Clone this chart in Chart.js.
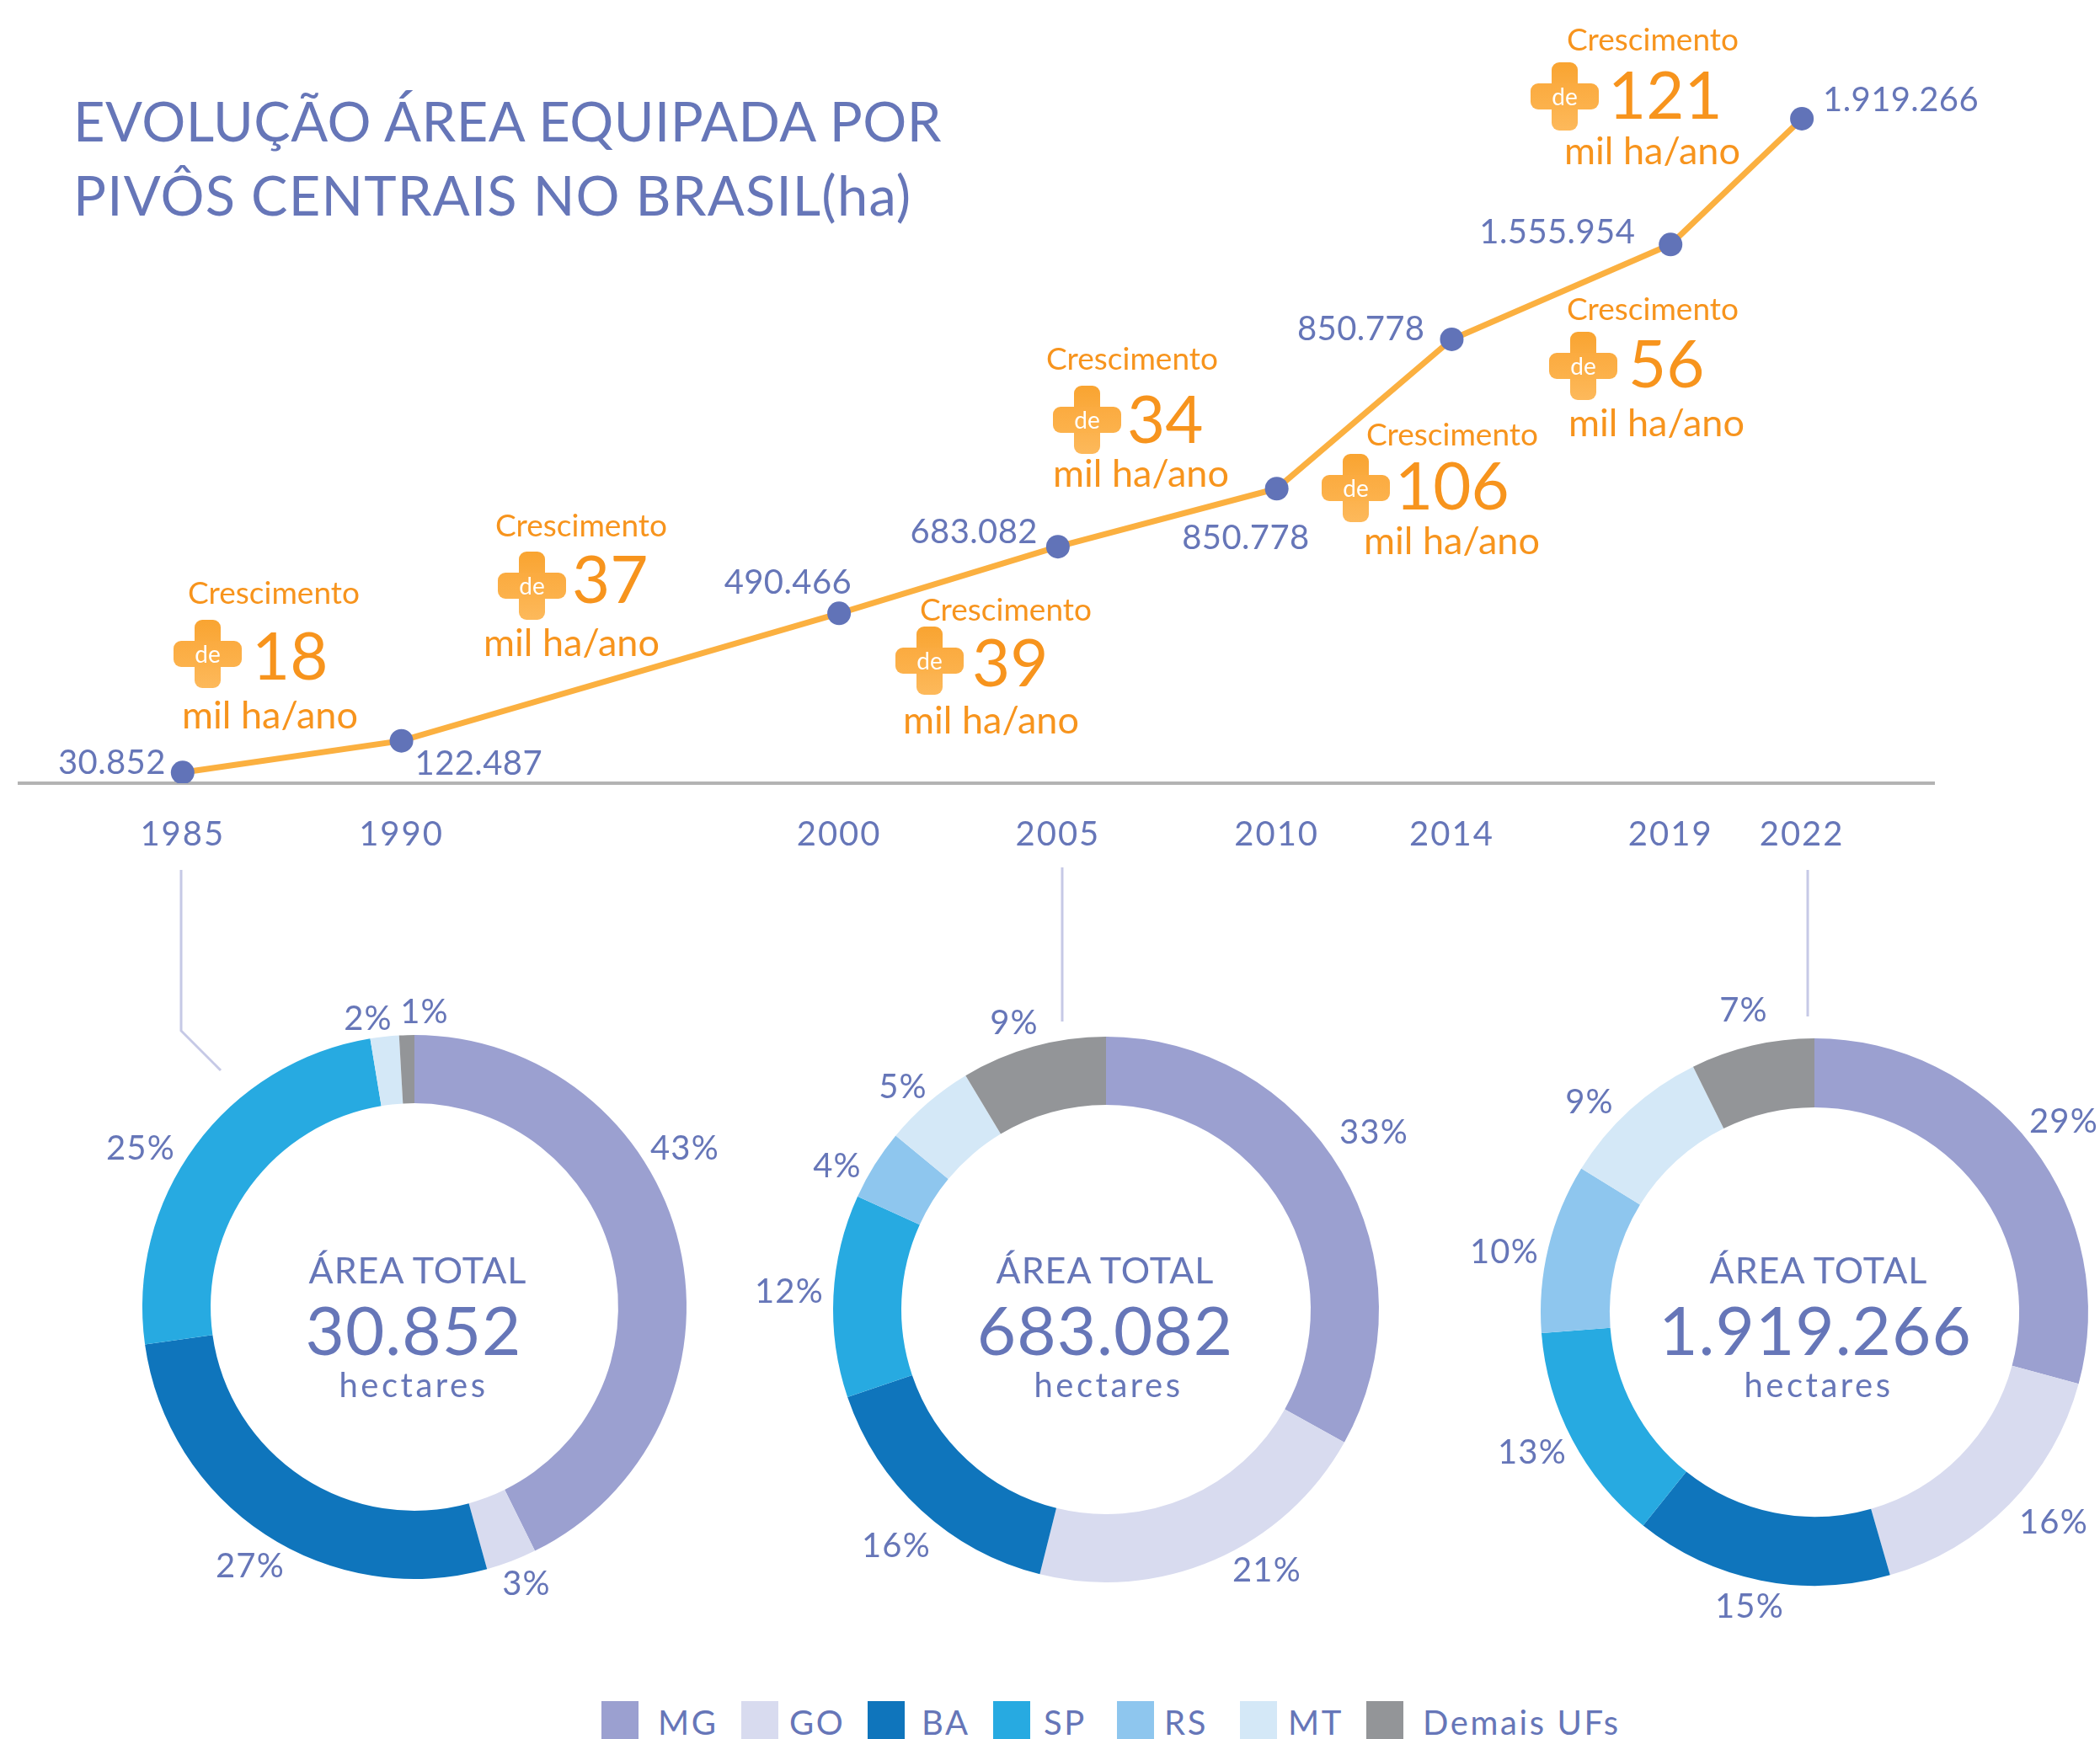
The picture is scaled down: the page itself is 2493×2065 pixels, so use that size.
<!DOCTYPE html>
<html lang="pt-BR">
<head>
<meta charset="utf-8">
<title>Evolução área equipada por pivôs centrais</title>
<script src="https://cdn.jsdelivr.net/npm/chart.js@4/dist/chart.umd.min.js"></script>
<style>
    html, body { margin: 0; padding: 0; background: #fff; }
    body { position: relative; width: 2493px; height: 2065px; overflow: hidden; font-family: Lato, sans-serif; color: #6676b8; }
    canvas { position: absolute; }
    .txt { position: absolute; white-space: nowrap; line-height: 1; }
    .orange { color: #f7941d; }
    .plus { position: absolute; width: 81px; height: 81px; }
    .plus i { position: absolute; border-radius: 9px; background: linear-gradient(#f9a431, #fdb95b); }
    .plus .v { left: 25px; top: 0; width: 31px; height: 81px; }
    .plus .h { left: 0; top: 0; width: 81px; height: 81px; background: none; }
    .plus .h b { position: absolute; left: 0; top: 25px; width: 81px; height: 31px; border-radius: 9px; background: linear-gradient(#fbab40, #fcb24c); }
    .plus span { position: absolute; left: 0; top: 24px; width: 81px; text-align: center; color: #fff; font-size: 28px; line-height: 32px; }
    .center { transform: translateX(-50%); }
    .swatch { position: absolute; top: 2020px; width: 44px; height: 45px; }
    .leg { position: absolute; top: 2025px; font-size: 40px; line-height: 40px; letter-spacing: 2.6px; white-space: nowrap; }
    svg { position: absolute; left: 0; top: 0; }
</style>
</head>
<body>
<svg width="2493" height="2065">
    <polyline points="215,1033 215,1224 262,1271" fill="none" stroke="#c6c9e6" stroke-width="3"/>
    <line x1="1261" y1="1030" x2="1261" y2="1213" stroke="#c6c9e6" stroke-width="3"/>
    <line x1="2146" y1="1033" x2="2146" y2="1207" stroke="#c6c9e6" stroke-width="3"/>
</svg>
<canvas id="lineChart"></canvas>
<canvas id="donut1"></canvas>
<canvas id="donut2"></canvas>
<canvas id="donut3"></canvas>
<script>
// Line chart data
const years = [1985, 1990, 2000, 2005, 2010, 2014, 2019, 2022];
const areas = [30852, 122487, 490466, 683082, 850778, 1282000, 1555954, 1919266];
const areaLabels = ['30.852', '122.487', '490.466', '683.082', '850.778', '850.778', '1.555.954', '1.919.266'];

// Growth callouts
const growthValues = ['18', '37', '39', '34', '106', '56', '121'];

// Donut data
const states = ['MG', 'GO', 'BA', 'SP', 'RS', 'MT', 'Demais UFs'];
const shares1985 = [42.7, 3, 27.1, 24.6, 0, 1.7, 0.9];
const shares2005 = [33.1, 20.8, 15.9, 12, 4.2, 5.4, 8.6];
const shares2022 = [29.2, 16.3, 15.2, 13, 10, 8.9, 7.3];
const pctLabels1985 = ['43%', '3%', '27%', '25%', '', '2%', '1%'];
const pctLabels2005 = ['33%', '21%', '16%', '12%', '4%', '5%', '9%'];
const pctLabels2022 = ['29%', '16%', '15%', '13%', '10%', '9%', '7%'];
const totals = ['30.852', '683.082', '1.919.266'];

const stateColors = ['#9ba0d0', '#d8dbef', '#0f75bc', '#27aae1', '#8ec6ee', '#d4e8f7', '#939598'];
const blue = '#6676b8';
const FONT = 'Lato, sans-serif';

// Layout, in page pixels
const labelOffsets = [[-20, -11, 'right'], [16, 27, 'left'], [15, -36, 'right'], [-24, -17, 'right'],
    [39, 59, 'right'], [-32, -12, 'right'], [-42, -14, 'right'], [25, -22, 'left']];
const growthBoxes = [
    { cres: [223, 702], plus: [246, 776], num: [299, 777], mil: [216, 848] },
    { cres: [588, 622], plus: [631, 695], num: [679, 686], mil: [574, 762] },
    { cres: [1092, 722], plus: [1103, 784], num: [1154, 785], mil: [1072, 854] },
    { cres: [1242, 424], plus: [1290, 498], num: [1338, 496], mil: [1250, 561] },
    { cres: [1622, 514], plus: [1609, 579], num: [1656, 575], mil: [1619, 641] },
    { cres: [1860, 365], plus: [1879, 434], num: [1933, 430], mil: [1862, 501] },
    { cres: [1860, 45], plus: [1857, 114], num: [1909, 111], mil: [1857, 178] }
];
const donutCenters = [[492, 1552], [1313, 1555], [2154, 1558]];
const donutRadius = [323, 324, 325];
const donutCutout = ['74.9%', '75%', '74.8%'];
const areaTextX = [496, 1312, 2159];
const totalTextX = [491, 1312, 2155];
const hectaresTextX = [491, 1316, 2159];
const pctOffsets1985 = [[321, -188], [133, 329], [-195, 308], [-325, -188], null, [-55, -342], [12, -350]];
const pctOffsets2005 = [[318, -210], [191, 310], [-249, 281], [-376, -21], [-319, -170], [-241, -264], [-109, -340]];
const pctOffsets2022 = [[296, -226], [284, 250], [-77, 350], [-335, 167], [-368, -71], [-267, -249], [-84, -358]];
const swatchX = [714, 880, 1030, 1179, 1326, 1472, 1622];
const legendTextX = [781, 937, 1094, 1239, 1382, 1529, 1689];

function addText(cls, text, left, centerY, size, spacing) {
    const el = document.createElement('div');
    el.className = 'txt ' + cls;
    el.textContent = text;
    el.style.left = left + 'px';
    el.style.top = (centerY - size / 2) + 'px';
    el.style.fontSize = size + 'px';
    if (spacing) el.style.letterSpacing = spacing + 'px';
    document.body.appendChild(el);
    return el;
}

function addGrowthCallouts() {
    growthValues.forEach((value, i) => {
        const box = growthBoxes[i];
        addText('orange', 'Crescimento', box.cres[0], box.cres[1], 37);
        addText('orange', value, box.num[0], box.num[1], 78);
        addText('orange', 'mil ha/ano', box.mil[0], box.mil[1], 45);
        const plus = document.createElement('div');
        plus.className = 'plus';
        plus.style.left = (box.plus[0] - 40) + 'px';
        plus.style.top = (box.plus[1] - 40) + 'px';
        plus.innerHTML = '<i class="v"></i><i class="h"><b></b></i><span>de</span>';
        document.body.appendChild(plus);
    });
}

function addDonutCenters() {
    totals.forEach((total, i) => {
        addText('center', 'ÁREA TOTAL', areaTextX[i], 1507, 43, 1);
        addText('center', total, totalTextX[i], 1578, 80, 1);
        addText('center', 'hectares', hectaresTextX[i], 1644, 40, 3.5);
    });
}

function addLegend() {
    states.forEach((state, i) => {
        const sw = document.createElement('div');
        sw.className = 'swatch';
        sw.style.left = swatchX[i] + 'px';
        sw.style.background = stateColors[i];
        document.body.appendChild(sw);
        const label = document.createElement('div');
        label.className = 'leg';
        label.style.left = legendTextX[i] + 'px';
        label.textContent = state;
        document.body.appendChild(label);
    });
}

// Value labels next to the points of the line
const pointLabelPlugin = {
    id: 'pointLabels',
    beforeDraw(chart) {
        // wider tick labels, the canvas keeps this for the axis text
        chart.ctx.letterSpacing = '2px';
    },
    afterDatasetsDraw(chart) {
        const ctx = chart.ctx;
        const meta = chart.getDatasetMeta(0);
        ctx.save();
        ctx.letterSpacing = '0.4px';
        ctx.font = '40px ' + FONT;
        ctx.fillStyle = blue;
        ctx.textBaseline = 'middle';
        meta.data.forEach((pt, i) => {
            const off = labelOffsets[i];
            ctx.textAlign = off[2];
            ctx.fillText(areaLabels[i], pt.x + off[0], pt.y + off[1]);
        });
        ctx.restore();
    }
};

function createLineChart() {
    const canvas = document.getElementById('lineChart');
    canvas.width = 2493;
    canvas.height = 1040;
    canvas.style.left = '0px';
    canvas.style.top = '0px';

    new Chart(canvas, {
        type: 'line',
        data: {
            datasets: [{
                data: years.map((year, i) => ({ x: year, y: areas[i] })),
                borderColor: '#fbb040',
                borderWidth: 7,
                tension: 0,
                pointRadius: 14,
                pointBackgroundColor: '#6173b8',
                pointBorderWidth: 0
            }]
        },
        options: {
            responsive: false,
            animation: false,
            layout: { autoPadding: false, padding: { left: 23, right: 197, top: 5, bottom: 0 } },
            plugins: { legend: { display: false }, tooltip: { enabled: false } },
            scales: {
                x: {
                    type: 'linear',
                    min: 1981.27,
                    max: 2025.02,
                    afterBuildTicks(axis) { axis.ticks = years.map(v => ({ value: v })); },
                    afterFit(axis) { axis.height = 110; },
                    grid: { display: false },
                    border: { color: '#b3b3b3', width: 4 },
                    ticks: {
                        autoSkip: false,
                        maxRotation: 0,
                        padding: 29,
                        color: blue,
                        font: { family: FONT, size: 40 },
                        callback: value => String(value)
                    }
                },
                y: { display: false, min: 0, max: 2250000 }
            }
        },
        plugins: [pointLabelPlugin]
    });
}

// Percent labels around a donut
const pctLabelPlugin = {
    id: 'pctLabels',
    afterDatasetsDraw(chart, args, opts) {
        const ctx = chart.ctx;
        const arc = chart.getDatasetMeta(0).data[0];
        ctx.save();
        ctx.letterSpacing = '1.2px';
        ctx.font = '40px ' + FONT;
        ctx.fillStyle = blue;
        ctx.textAlign = 'center';
        ctx.textBaseline = 'middle';
        opts.labels.forEach((text, i) => {
            if (!text) return;
            ctx.fillText(text, arc.x + opts.offsets[i][0], arc.y + opts.offsets[i][1]);
        });
        ctx.restore();
    }
};

function createDonut(id, index, values, labels, offsets) {
    const canvas = document.getElementById(id);
    const size = 900;
    canvas.width = size;
    canvas.height = size;
    canvas.style.left = (donutCenters[index][0] - size / 2) + 'px';
    canvas.style.top = (donutCenters[index][1] - size / 2) + 'px';

    new Chart(canvas, {
        type: 'doughnut',
        data: {
            labels: states,
            datasets: [{
                data: values,
                backgroundColor: stateColors,
                borderWidth: 0
            }]
        },
        options: {
            responsive: false,
            animation: false,
            radius: donutRadius[index],
            cutout: donutCutout[index],
            plugins: {
                legend: { display: false },
                tooltip: { enabled: false },
                pctLabels: { labels: labels, offsets: offsets }
            }
        },
        plugins: [pctLabelPlugin]
    });
}

addText('', 'EVOLUÇÃO ÁREA EQUIPADA POR', 87, 143, 65, 0.5);
addText('', 'PIVÔS CENTRAIS NO BRASIL(ha)', 87, 231, 65, 1.2);
addGrowthCallouts();
addDonutCenters();
addLegend();
createLineChart();
createDonut('donut1', 0, shares1985, pctLabels1985, pctOffsets1985);
createDonut('donut2', 1, shares2005, pctLabels2005, pctOffsets2005);
createDonut('donut3', 2, shares2022, pctLabels2022, pctOffsets2022);
</script>
</body>
</html>
